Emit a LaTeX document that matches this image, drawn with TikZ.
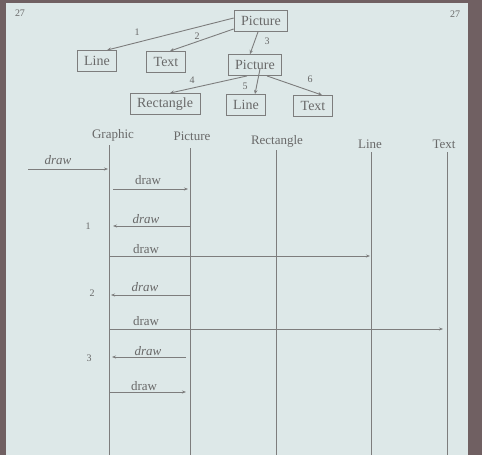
\documentclass[tikz,border=0pt]{standalone}
\usepackage{fontspec}
\setmainfont{Liberation Serif}
\usetikzlibrary{arrows.meta,calc}
\definecolor{slide}{RGB}{221,232,232}
\definecolor{frame}{RGB}{112,96,98}
\definecolor{ink}{RGB}{105,105,105}
\definecolor{wire}{RGB}{125,125,125}
\tikzset{
  box/.style={draw=wire,line width=0.9pt,text=ink,font=\fontsize{14}{14}\selectfont,inner xsep=7pt,inner ysep=2pt,minimum height=21pt},
  tarr/.style={draw=wire,line width=0.9pt,-{Stealth[length=4pt,width=3.5pt]}},
  num/.style={text=ink,font=\fontsize{10}{10}\selectfont,inner sep=0pt},
  head/.style={text=ink,font=\fontsize{13}{13}\selectfont,inner sep=0pt},
  life/.style={draw=wire,line width=0.9pt},
  msg/.style={draw=wire,line width=0.8pt,-{Stealth[length=4pt,width=3pt]}},
  lab/.style={text=ink,font=\fontsize{13}{13}\selectfont,inner sep=0pt},
  ilab/.style={lab,font=\fontsize{13}{13}\selectfont\itshape}
}
\begin{document}
\begin{tikzpicture}[x=1pt,y=-1pt]
\useasboundingbox (0,0) rectangle (482,455);
\fill[frame] (0,0) rectangle (482,455);
\fill[slide] (6,3) rectangle (468,455);
% page numbers
\node[num] (pnl) at (20,13) {27};
\node[num] (pnr) at (455,14) {27};
% tree
\node[box] (p1) at (261,21) {Picture};
\node[box] (l1) at (97,61) {Line};
\node[box] (t1) at (166,62) {Text};
\node[box] (p2) at (255,65) {Picture};
\node[box] (r2) at (165,104) {Rectangle};
\node[box] (l2) at (246,105) {Line};
\node[box] (t2) at (313,106) {Text};
\draw[tarr] ($(p1.west)+(0,-3)$) -- ($(l1.north)!0.5!(l1.north east)$);
\draw[tarr] ($(p1.south west)+(0,-3)$) -- ($(t1.north)+(4,0)$);
\draw[tarr] ($(p1.south)+(-3,0)$) -- ($(p2.north)+(-5,0)$);
\draw[tarr] ($(p2.south)+(-8,0)$) -- ($(r2.north)+(5,0)$);
\draw[tarr] ($(p2.south)+(5,-7)$) -- ($(l2.north)+(9,0)$);
\draw[tarr] ($(p2.south)+(12,0)$) -- ($(t2.north)+(9,0)$);
\node[num] (n1) at (137,32) {1};
\node[num] (n2) at (197,36) {2};
\node[num] (n3) at (267,41) {3};
\node[num] (n4) at (192,80) {4};
\node[num] (n5) at (245,86) {5};
\node[num] (n6) at (310,79) {6};
% sequence headers
\node[head] (hg) at (113,135) {Graphic};
\node[head] (hp) at (192,136) {Picture};
\node[head] (hr) at (277,141) {Rectangle};
\node[head] (hl) at (370,144) {Line};
\node[head] (ht) at (444,144) {Text};
% lifelines
\coordinate (gt) at (109,145); \coordinate (gb) at (109,455);
\coordinate (pt) at (190,148); \coordinate (pb) at (190,455);
\coordinate (rt) at (276,150); \coordinate (rb) at (276,455);
\coordinate (lt) at (371,152); \coordinate (lb) at (371,455);
\coordinate (tt) at (447,152); \coordinate (tb) at (447,455);
\draw[life] (gt) -- (gb);
\draw[life] (pt) -- (pb);
\draw[life] (rt) -- (rb);
\draw[life] (lt) -- (lb);
\draw[life] (tt) -- (tb);
% messages
\coordinate (m0) at (28,169);
\draw[msg,shorten >=1pt] (m0) -- (m0 -| gt);
\node[ilab] (d0) at (58,160) {draw};
\coordinate (m1) at (113,189);
\draw[msg,shorten >=2pt] (m1) -- (m1 -| pt);
\node[lab] (d1) at (148,180) {draw};
\coordinate (m2) at (190,226);
\draw[msg,shorten >=4pt] (m2) -- (m2 -| gt);
\node[ilab] (d2) at (146,219) {draw};
\node[num] (k1) at (88,226) {1};
\coordinate (m3) at (109,256);
\draw[msg,shorten >=1pt] (m3) -- (m3 -| lt);
\node[lab] (d3) at (146,249) {draw};
\coordinate (m4) at (190,295);
\draw[msg,shorten >=2pt] (m4) -- (m4 -| gt);
\node[ilab] (d4) at (145,287) {draw};
\node[num] (k2) at (92,293) {2};
\coordinate (m5) at (109,329);
\draw[msg,shorten >=4pt] (m5) -- (m5 -| tt);
\node[lab] (d5) at (146,321) {draw};
\coordinate (m6) at (186,357);
\draw[msg,shorten >=3pt] (m6) -- (m6 -| gt);
\node[ilab] (d6) at (148,351) {draw};
\node[num] (k3) at (89,358) {3};
\coordinate (m7) at (109,392);
\draw[msg,shorten >=4pt] (m7) -- (m7 -| pt);
\node[lab] (d7) at (144,386) {draw};
\end{tikzpicture}
\end{document}
